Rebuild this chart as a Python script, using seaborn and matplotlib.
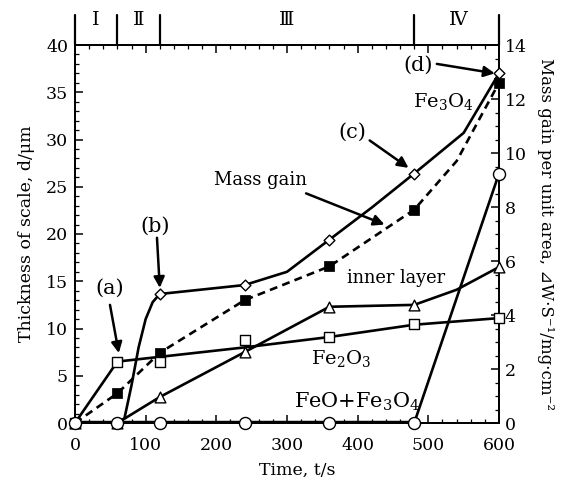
import numpy as np
import seaborn as sns
import matplotlib.pyplot as plt
from matplotlib.ticker import MultipleLocator

# times of the measurements (s)
t_pts = [0, 60, 120, 240, 360, 480, 600]

# scale thickness (um)
diamond_pts = [0, 0, 13.65, 14.6, 19.4, 26.4, 37.0]      # total scale
square_pts = [0, 6.5, 6.5, 8.8, 9.1, 10.5, 11.1]         # Fe2O3
triangle_pts = [0, 0, 2.75, 7.5, 12.3, 12.5, 16.5]       # inner layer
circle_pts = [0, 0, 0, 0, 0, 0, 26.4]                    # FeO+Fe3O4
mass_pts = [0, 1.1, 2.6, 4.55, 5.8, 7.9, 12.6]           # mass gain, mg/cm2

# curve paths (the drawn lines are smoothed, read as extra points)
diamond_line_t = [0, 60, 70, 80, 90, 100, 110, 120, 240, 300, 360, 420, 480, 550, 600]
diamond_line_v = [0, 0, 0.5, 4, 8, 11, 12.8, 13.65, 14.6, 16.0, 19.4, 22.8, 26.4, 30.7, 37.0]
square_line_t = [0, 60, 120, 240, 360, 480, 600]
square_line_v = [0, 6.5, 7.0, 8.0, 9.1, 10.4, 11.1]
triangle_line_t = [0, 60, 120, 240, 360, 480, 540, 600]
triangle_line_v = [0, 0, 2.75, 7.5, 12.3, 12.5, 14.1, 16.5]
mass_line_t = [0, 60, 120, 240, 360, 480, 540, 600]
mass_line_v = [0, 1.1, 2.6, 4.55, 5.8, 7.9, 9.7, 12.6]

# stage boundaries along the top
stage_bounds = [0, 60, 120, 480, 600]
stage_names = ['Ⅰ', 'Ⅱ', 'Ⅲ', 'Ⅳ']
stage_pos = [30, 90, 300, 543]

sns.set_theme(style='ticks')
plt.rcParams['font.family'] = ['DejaVu Serif', 'DejaVu Sans']
plt.rcParams['mathtext.fontset'] = 'dejavuserif'
plt.rcParams['text.color'] = 'black'
plt.rcParams['axes.labelcolor'] = 'black'
plt.rcParams['xtick.color'] = 'black'
plt.rcParams['ytick.color'] = 'black'

fig = plt.figure(figsize=(5.69, 4.84), dpi=100)
ax = fig.add_axes([75 / 569, 61 / 484, 424 / 569, 378 / 484])
ax2 = ax.twinx()
# thickness axes drawn above the mass-gain axes so open markers stay on top
ax.set_zorder(ax2.get_zorder() + 1)
ax.patch.set_visible(False)

lw = 1.9
sns.lineplot(x=square_line_t, y=square_line_v, ax=ax, color='black', lw=lw, estimator=None, sort=False)
sns.lineplot(x=triangle_line_t, y=triangle_line_v, ax=ax, color='black', lw=lw, estimator=None, sort=False)
sns.lineplot(x=diamond_line_t, y=diamond_line_v, ax=ax, color='black', lw=lw, estimator=None, sort=False)
# FeO+Fe3O4: thick along the base, then the steep rise
sns.lineplot(x=t_pts[:-1], y=circle_pts[:-1], ax=ax, color='black', lw=3.2, estimator=None, sort=False)
sns.lineplot(x=t_pts[-2:], y=circle_pts[-2:], ax=ax, color='black', lw=lw, estimator=None, sort=False)

sns.scatterplot(x=t_pts, y=square_pts, ax=ax, marker='s', s=60, facecolor='white', edgecolor='black', linewidth=1, zorder=5, clip_on=False)
sns.scatterplot(x=t_pts, y=triangle_pts, ax=ax, marker='^', s=60, facecolor='white', edgecolor='black', linewidth=1, zorder=5, clip_on=False)
sns.scatterplot(x=t_pts, y=diamond_pts, ax=ax, marker='D', s=30, facecolor='white', edgecolor='black', linewidth=1, zorder=6, clip_on=False)
sns.scatterplot(x=t_pts, y=circle_pts, ax=ax, marker='o', s=75, facecolor='white', edgecolor='black', linewidth=1, zorder=7, clip_on=False)

sns.lineplot(x=mass_line_t, y=mass_line_v, ax=ax2, color='black', lw=lw, linestyle=(0, (3, 2)), estimator=None, sort=False)
sns.scatterplot(x=t_pts, y=mass_pts, ax=ax2, marker='s', s=45, color='black', edgecolor='black', zorder=5, clip_on=False)

ax.set_xlim(0, 600)
ax.set_ylim(0, 40)
ax2.set_ylim(0, 14)
ax.xaxis.set_major_locator(MultipleLocator(100))
ax.xaxis.set_minor_locator(MultipleLocator(20))
ax.yaxis.set_major_locator(MultipleLocator(5))
ax.yaxis.set_minor_locator(MultipleLocator(1))
ax2.yaxis.set_major_locator(MultipleLocator(2))
ax2.yaxis.set_minor_locator(MultipleLocator(0.5))

ax.tick_params(which='both', direction='in', top=True, right=False, labelsize=12.5, color='black')
ax.tick_params(axis='x', pad=10)
ax.tick_params(axis='y', pad=5)
ax.tick_params(which='major', length=6, width=1.1)
ax.tick_params(which='minor', length=3, width=0.9)
ax2.tick_params(which='both', direction='in', labelsize=12.5, pad=4, color='black')
ax2.tick_params(which='major', length=6, width=1.1)
ax2.tick_params(which='minor', length=3, width=0.9)
for a in (ax, ax2):
    for sp in a.spines.values():
        sp.set_linewidth(1.3)
        sp.set_color('black')

ax.set_xlabel('Time, t/s', fontsize=12.5)
ax.xaxis.set_label_coords(0.523, -0.103)
ax.set_ylabel('Thickness of scale, d/μm', fontsize=12.5, labelpad=8)
ax2.set_ylabel('Mass gain per unit area, ⊿W·S⁻¹/mg·cm⁻²', fontsize=12, rotation=-90, labelpad=20)

# stage markers above the plot
for b in stage_bounds:
    ax.plot([b, b], [1.0, 1.08], transform=ax.get_xaxis_transform(), color='black', lw=1.6, clip_on=False)
for name, p in zip(stage_names, stage_pos):
    ax.text(p, 1.066, name, transform=ax.get_xaxis_transform(), ha='center', va='center', fontsize=14)

# annotations
arrow = dict(arrowstyle='-|>', lw=1.8, color='black', mutation_scale=16, shrinkA=0, shrinkB=0)
ax.annotate('', xy=(62, 7.4), xytext=(49.5, 12.5), arrowprops=arrow)
ax.annotate('', xy=(120, 14.3), xytext=(116, 19.6), arrowprops=arrow)
ax.annotate('', xy=(472, 27.0), xytext=(417, 29.9), arrowprops=arrow)
ax.annotate('', xy=(594, 37.0), xytext=(512, 38.0), arrowprops=arrow)
ax.annotate('', xy=(438, 21.0), xytext=(327, 24.3), arrowprops=arrow)

ax.text(49.5, 14.3, '(a)', ha='center', va='center', fontsize=15)
ax.text(113, 20.8, '(b)', ha='center', va='center', fontsize=15)
ax.text(392, 30.8, '(c)', ha='center', va='center', fontsize=15)
ax.text(486, 37.9, '(d)', ha='center', va='center', fontsize=15)
ax.text(521, 34.0, 'Fe$_3$O$_4$', ha='center', va='center', fontsize=14)
ax.text(262, 25.7, 'Mass gain', ha='center', va='center', fontsize=13)
ax.text(455, 15.3, 'inner layer', ha='center', va='center', fontsize=12.8)
ax.text(376, 6.8, 'Fe$_2$O$_3$', ha='center', va='center', fontsize=14)
ax.text(399, 2.2, 'FeO+Fe$_3$O$_4$', ha='center', va='center', fontsize=15)

fig.savefig('out.png', dpi=100)
